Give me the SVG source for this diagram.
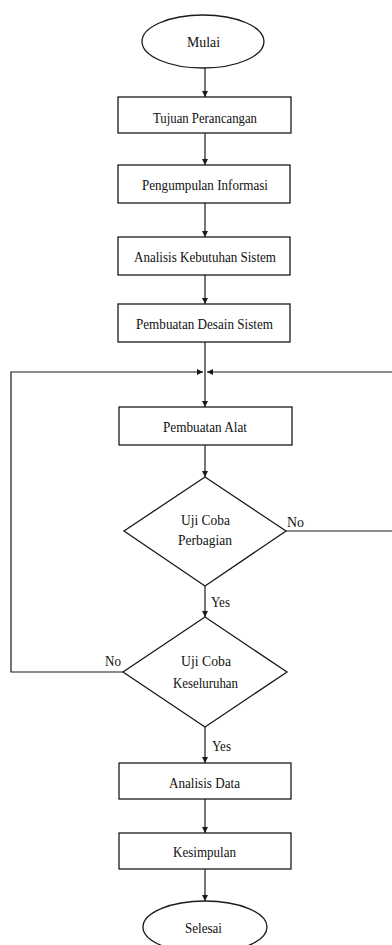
<svg xmlns="http://www.w3.org/2000/svg" width="392" height="945" viewBox="0 0 392 945">
<defs>
<style>
.shape{fill:#fff;stroke:#1a1a1a;stroke-width:1.3}
.line{fill:none;stroke:#1a1a1a;stroke-width:1.2}
text{font-family:"Liberation Serif","Times New Roman",serif;font-size:14px;fill:#111}
.c{text-anchor:middle}
</style>
<marker id="arr" viewBox="0 0 10 10" refX="10" refY="5" markerWidth="6" markerHeight="7" markerUnits="userSpaceOnUse" orient="auto">
<path d="M0,0 L10,5 L0,10 z" fill="#1a1a1a"/>
</marker>
</defs>
<rect width="392" height="945" fill="#fff"/>
<g id="connectors">
<line class="line" x1="205" y1="68" x2="205" y2="97" marker-end="url(#arr)"/>
<line class="line" x1="205" y1="133" x2="205" y2="165" marker-end="url(#arr)"/>
<line class="line" x1="205" y1="203" x2="205" y2="237" marker-end="url(#arr)"/>
<line class="line" x1="205" y1="275" x2="205" y2="304" marker-end="url(#arr)"/>
<line class="line" x1="205" y1="342" x2="205" y2="407" marker-end="url(#arr)"/>
<line class="line" x1="205" y1="445" x2="205" y2="477" marker-end="url(#arr)"/>
<line class="line" x1="205" y1="586" x2="205" y2="617" marker-end="url(#arr)"/>
<line class="line" x1="205" y1="727" x2="205" y2="763" marker-end="url(#arr)"/>
<line class="line" x1="205" y1="799" x2="205" y2="833" marker-end="url(#arr)"/>
<line class="line" x1="205" y1="869" x2="205" y2="901" marker-end="url(#arr)"/>
<polyline class="line" points="123,672 11,672 11,372 203,372" marker-end="url(#arr)"/>
<polyline class="line" points="286,531 400,531 400,372 207,372" marker-end="url(#arr)"/>
<text x="287" y="527" textLength="17" lengthAdjust="spacingAndGlyphs">No</text>
<text x="211" y="607" textLength="19" lengthAdjust="spacingAndGlyphs">Yes</text>
<text x="105" y="666" textLength="16" lengthAdjust="spacingAndGlyphs">No</text>
<text x="212" y="751" textLength="19" lengthAdjust="spacingAndGlyphs">Yes</text>
</g>
<g id="mulai">
<ellipse class="shape" cx="203" cy="41.5" rx="61" ry="26.5"/>
<text class="c" x="203.5" y="46.5" textLength="33" lengthAdjust="spacingAndGlyphs">Mulai</text>
</g>
<g id="tujuan">
<rect class="shape" x="118" y="97" width="173" height="36"/>
<text class="c" x="205" y="122.5" textLength="104" lengthAdjust="spacingAndGlyphs">Tujuan Perancangan</text>
</g>
<g id="pengumpulan">
<rect class="shape" x="118" y="165" width="172" height="38"/>
<text class="c" x="205" y="189.5" textLength="126" lengthAdjust="spacingAndGlyphs">Pengumpulan Informasi</text>
</g>
<g id="analisis-kebutuhan">
<rect class="shape" x="118" y="237" width="172" height="38"/>
<text class="c" x="205" y="262" textLength="142" lengthAdjust="spacingAndGlyphs">Analisis Kebutuhan Sistem</text>
</g>
<g id="desain">
<rect class="shape" x="118" y="304" width="172" height="38"/>
<text class="c" x="204.5" y="328.5" textLength="137" lengthAdjust="spacingAndGlyphs">Pembuatan Desain Sistem</text>
</g>
<g id="alat">
<rect class="shape" x="119" y="407" width="173" height="38"/>
<text class="c" x="205" y="431.5" textLength="84" lengthAdjust="spacingAndGlyphs">Pembuatan Alat</text>
</g>
<g id="uji-perbagian">
<polygon class="shape" points="205,477 286,531 205,586 124,531"/>
<text class="c" x="205.5" y="524.5" textLength="49" lengthAdjust="spacingAndGlyphs">Uji Coba</text>
<text class="c" x="205" y="545" textLength="54" lengthAdjust="spacingAndGlyphs">Perbagian</text>
</g>
<g id="uji-keseluruhan">
<polygon class="shape" points="205,617 287,672 205,727 123,672"/>
<text class="c" x="206" y="665.5" textLength="50" lengthAdjust="spacingAndGlyphs">Uji Coba</text>
<text class="c" x="205.5" y="688" textLength="65" lengthAdjust="spacingAndGlyphs">Keseluruhan</text>
</g>
<g id="analisis-data">
<rect class="shape" x="119" y="763" width="172" height="36"/>
<text class="c" x="204.5" y="787.5" textLength="71" lengthAdjust="spacingAndGlyphs">Analisis Data</text>
</g>
<g id="kesimpulan">
<rect class="shape" x="119" y="833" width="172" height="36"/>
<text class="c" x="204.5" y="856.5" textLength="63" lengthAdjust="spacingAndGlyphs">Kesimpulan</text>
</g>
<g id="selesai">
<ellipse class="shape" cx="205" cy="927" rx="62" ry="26"/>
<text class="c" x="203.5" y="932.5" textLength="37" lengthAdjust="spacingAndGlyphs">Selesai</text>
</g>
</svg>
